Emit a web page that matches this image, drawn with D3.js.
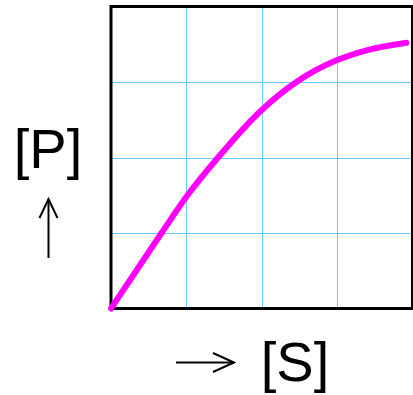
<!DOCTYPE html>
<html>
<head>
<meta charset="utf-8">
<script src="https://cdn.jsdelivr.net/npm/d3@7"></script>
<style>
  html, body { margin: 0; padding: 0; background: #fff; }
  svg { display: block; }
</style>
</head>
<body>
<svg id="chart"></svg>
<script>
// substrate concentration [S] vs product [P] (arbitrary grid units)
const sValues = [0, 0.67, 1, 1.42, 2, 2.46, 3, 3.39, 3.92];
const pValues = [0, 1, 1.48, 2, 2.63, 3, 3.29, 3.42, 3.52];
const gridTicks = [1, 2, 3];
const xLabel = "[S]";
const yLabel = "[P]";

const width = 413;
const height = 395;
const plot = { left: 111, right: 412.5, top: 6.5, bottom: 308.5 };

const svg = d3.select("#chart")
    .attr("width", width)
    .attr("height", height);

const x = d3.scaleLinear().domain([0, 4]).range([plot.left, plot.right]);
const y = d3.scaleLinear().domain([0, 4]).range([plot.bottom, plot.top]);

// grid (snap to pixel centres so the thin lines stay crisp)
const snap = v => Math.round(v) + 0.5;

svg.append("g")
    .selectAll("line.vx")
    .data(gridTicks)
    .enter()
    .append("line")
    .attr("x1", d => snap(x(d))).attr("x2", d => snap(x(d)))
    .attr("y1", y(0)).attr("y2", y(4))
    .style("stroke", "#66ccff")
    .style("stroke-width", 1)
    .style("shape-rendering", "crispEdges");

svg.append("g")
    .selectAll("line.hy")
    .data(gridTicks)
    .enter()
    .append("line")
    .attr("y1", d => snap(y(d))).attr("y2", d => snap(y(d)))
    .attr("x1", x(0)).attr("x2", x(4))
    .style("stroke", "#66ccff")
    .style("stroke-width", 1)
    .style("shape-rendering", "crispEdges");

// frame
svg.append("rect")
    .attr("x", x(0))
    .attr("y", y(4))
    .attr("width", x(4) - x(0))
    .attr("height", y(0) - y(4))
    .style("fill", "none")
    .style("stroke", "#000")
    .style("stroke-width", 3);

// curve
const line = d3.line()
    .x((d, i) => x(sValues[i]))
    .y(d => y(d))
    .curve(d3.curveMonotoneX);

svg.append("path")
    .datum(pValues)
    .attr("d", line)
    .style("fill", "none")
    .style("stroke", "#ff00ff")
    .style("stroke-width", 6)
    .style("stroke-linecap", "round");

// labels
svg.append("text")
    .attr("x", 48)
    .attr("y", 168)
    .attr("text-anchor", "middle")
    .style("font-family", "'Liberation Sans', Arial, sans-serif")
    .style("font-size", "56px")
    .text(yLabel);

svg.append("text")
    .attr("x", 295)
    .attr("y", 381)
    .attr("text-anchor", "middle")
    .style("font-family", "'Liberation Sans', Arial, sans-serif")
    .style("font-size", "56px")
    .text(xLabel);

// arrows
const arrows = svg.append("g")
    .style("fill", "none")
    .style("stroke", "#000")
    .style("stroke-width", 2);

arrows.append("line").attr("x1", 48.5).attr("x2", 48.5).attr("y1", 258).attr("y2", 199);
arrows.append("polyline").attr("points", "39.5,218 48.5,199 57.5,218");

arrows.append("line").attr("x1", 176).attr("x2", 234).attr("y1", 362.5).attr("y2", 362.5);
arrows.append("polyline").attr("points", "213,353 234,362.5 213,372");
</script>
</body>
</html>
